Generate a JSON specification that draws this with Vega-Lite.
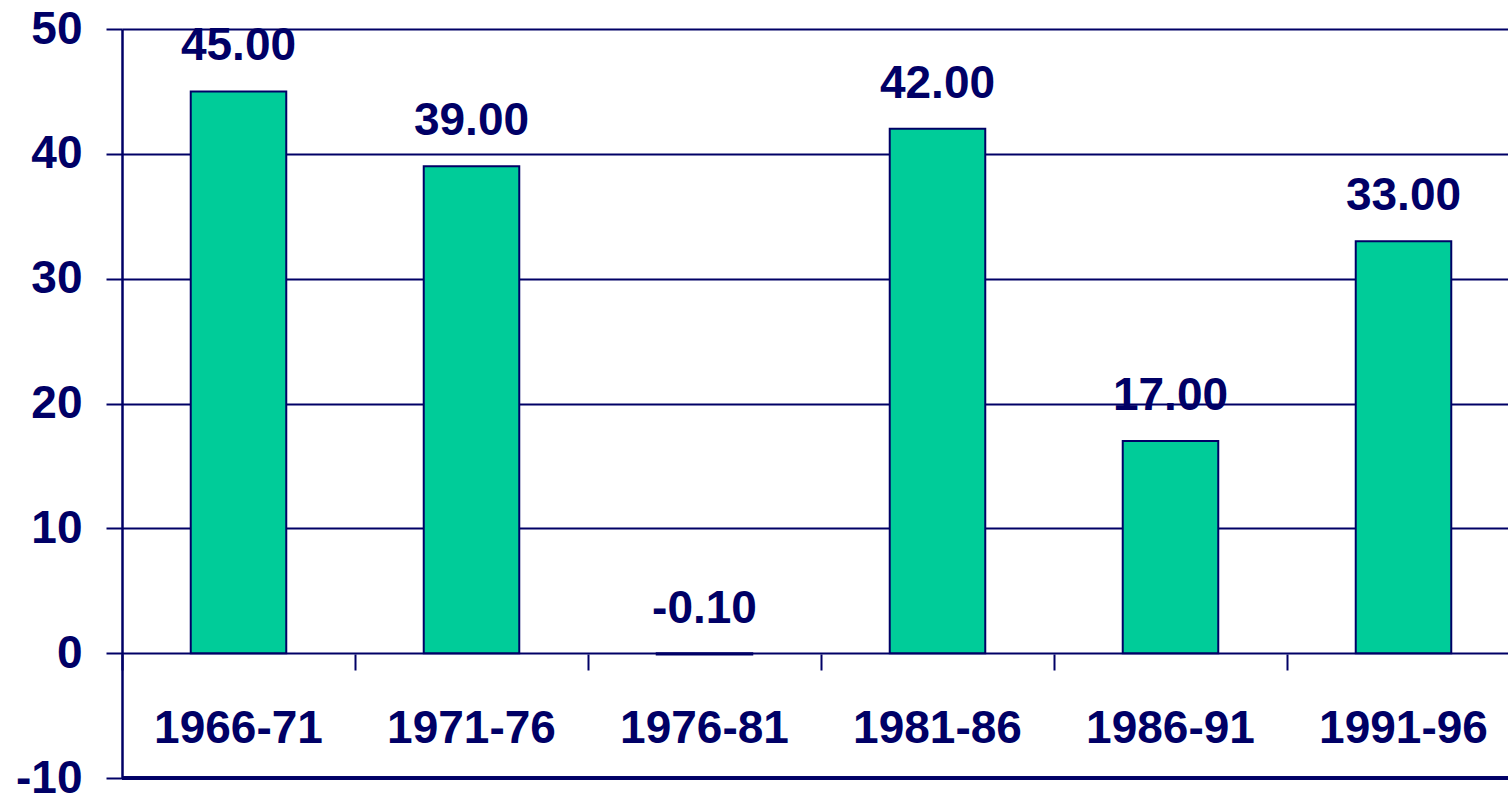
{
  "$schema": "https://vega.github.io/schema/vega-lite/v6.json",
  "width": 1386,
  "height": 749,
  "autosize": "none",
  "padding": {"left": 122, "top": 29, "right": 0, "bottom": 18},
  "background": "white",
  "config": {
    "view": {"stroke": null},
    "locale": {"number": {"decimal": ".", "thousands": ",", "grouping": [3], "currency": ["$", ""], "minus": "-"}}
  },
  "data": {"values": [
    {"period": "1966-71", "value": 45.0},
    {"period": "1971-76", "value": 39.0},
    {"period": "1976-81", "value": -0.1},
    {"period": "1981-86", "value": 42.0},
    {"period": "1986-91", "value": 17.0},
    {"period": "1991-96", "value": 33.0}
  ]},
  "resolve": {"scale": {"x": "independent"}, "axis": {"x": "independent"}},
  "layer": [
    {
      "mark": {"type": "bar", "fill": "#00CC99", "stroke": "#000066", "strokeWidth": 2},
      "encoding": {
        "x": {
          "field": "period", "type": "nominal", "sort": null,
          "scale": {"range": [0, 1398], "paddingInner": 0.59, "paddingOuter": 0.295},
          "axis": {
            "title": null, "labelAngle": 0, "offset": -124, "domain": false, "ticks": false,
            "orient": "bottom",
            "labelFont": "Liberation Sans", "labelFontWeight": "bold", "labelFontSize": 46,
            "labelColor": "#000066", "labelPadding": 52, "labelBaseline": "top"
          }
        },
        "y": {
          "field": "value", "type": "quantitative",
          "scale": {"domain": [-10, 50], "nice": false, "zero": false},
          "axis": {
            "title": null, "values": [-10, 0, 10, 20, 30, 40, 50],
            "grid": true, "gridColor": "#000066", "gridWidth": 2, "gridOpacity": 1,
            "domain": true, "domainColor": "#000066", "domainWidth": 2.5,
            "ticks": true, "tickSize": 16, "tickWidth": 2, "tickColor": "#000066",
            "labelFont": "Liberation Sans", "labelFontWeight": "bold", "labelFontSize": 46,
            "labelColor": "#000066", "labelPadding": 24
          }
        }
      }
    },
    {
      "mark": {"type": "rule", "stroke": "#000066", "strokeWidth": 3},
      "encoding": {"y": {"datum": -10}}
    },
    {
      "mark": {"type": "text", "font": "Liberation Sans", "fontWeight": "bold", "fontSize": 46,
               "color": "#000066", "baseline": "alphabetic", "dy": -31},
      "encoding": {
        "x": {
          "field": "period", "type": "nominal", "sort": null,
          "scale": {"range": [0, 1398], "paddingInner": 0, "paddingOuter": 0},
          "axis": {
            "title": null, "orient": "bottom", "offset": -124, "domain": false, "labels": false,
            "ticks": true, "tickSize": 16, "tickWidth": 2, "tickColor": "#000066", "tickBand": "extent"
          }
        },
        "y": {"field": "value", "type": "quantitative"},
        "text": {"field": "value", "type": "quantitative", "format": ".2f"}
      }
    }
  ]
}
